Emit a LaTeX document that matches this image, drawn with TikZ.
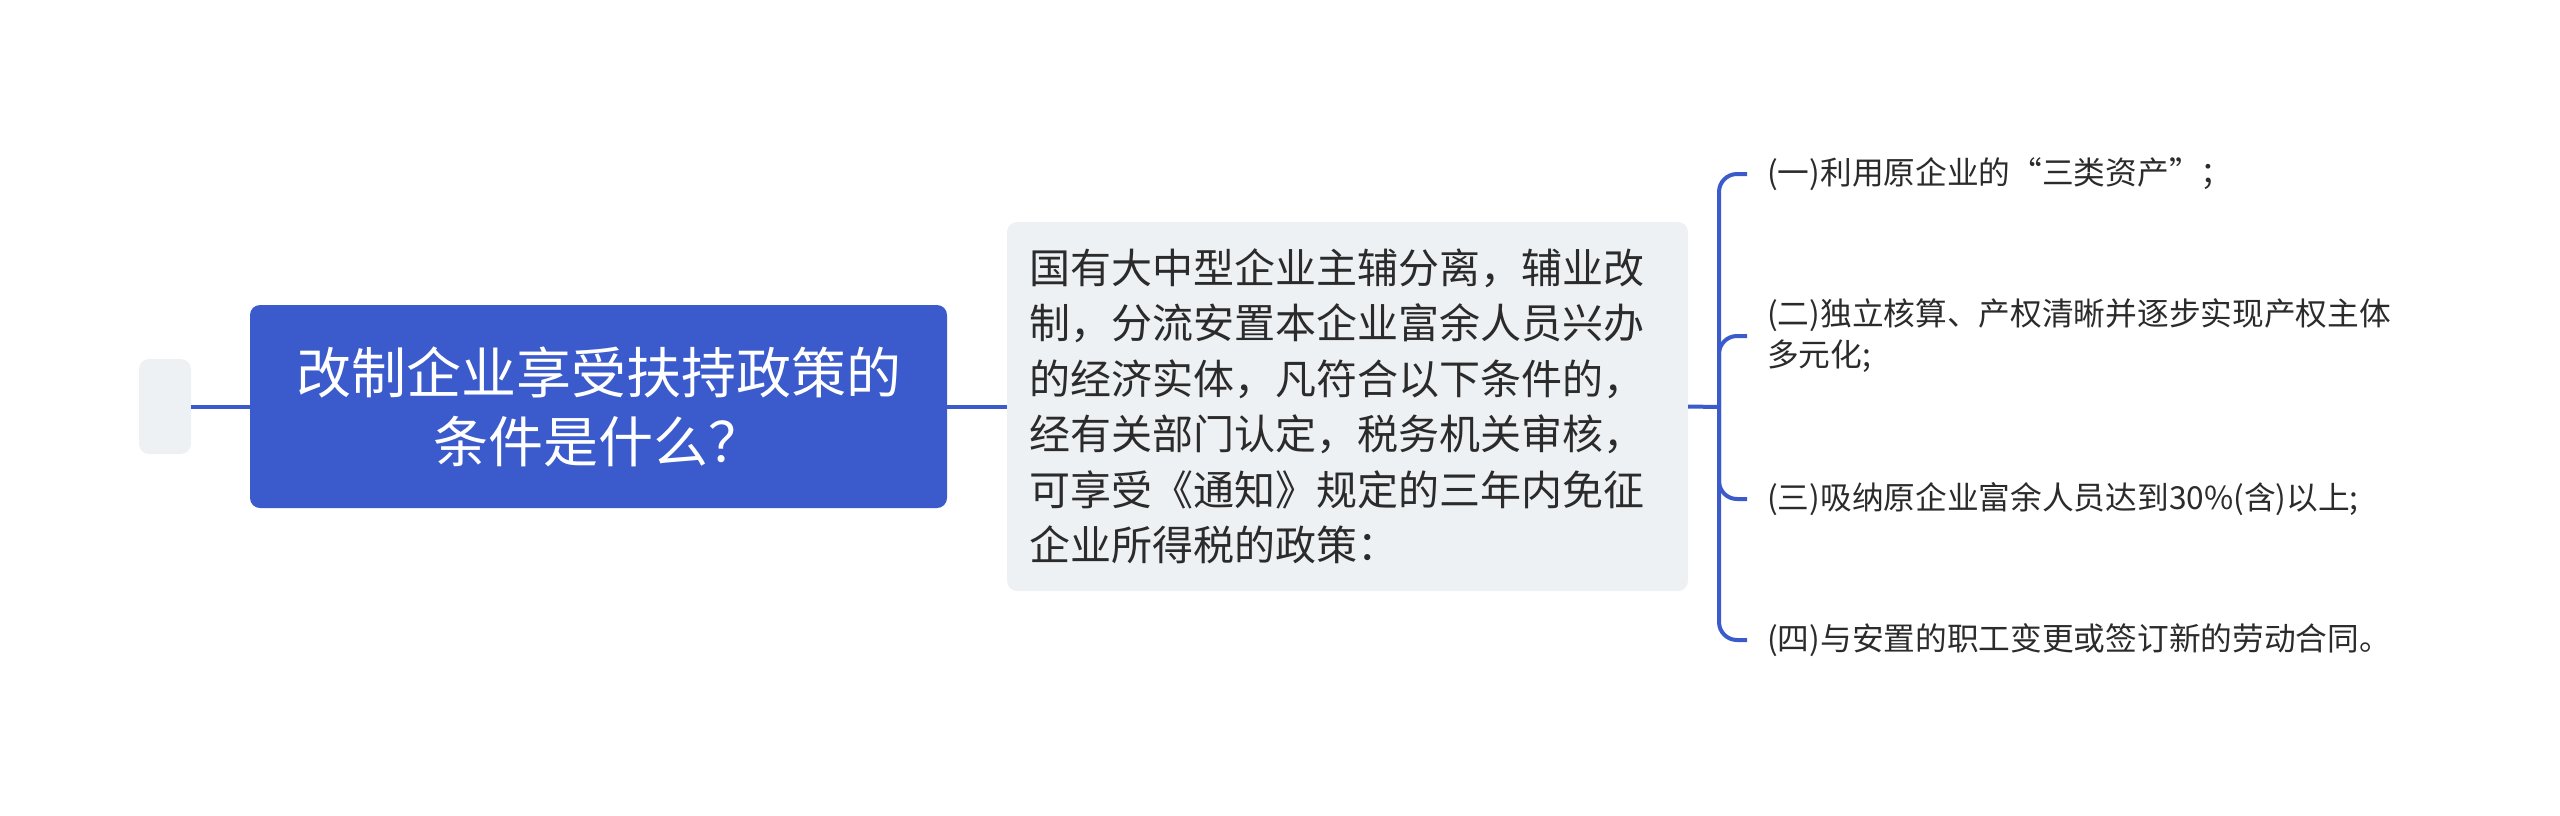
\documentclass[tikz,border=0pt]{standalone}
\usepackage{fontspec}
\newfontfamily\cjk{Noto Sans CJK SC}
\definecolor{mainblue}{HTML}{3B5BCD}
\definecolor{boxgray}{HTML}{EEF1F4}
\definecolor{txtcol}{HTML}{2B2B2B}
\begin{document}
\begin{tikzpicture}[x=1pt,y=-1pt,
  conn/.style={draw=mainblue,line width=4pt},
  branch/.style={draw=mainblue,line width=4pt,rounded corners=18pt},
  stub/.style={fill=boxgray,rounded corners=10pt,minimum width=52pt,minimum height=95pt,inner sep=0pt},
  rootbox/.style={fill=mainblue,rounded corners=10pt,minimum width=697pt,minimum height=203pt,inner sep=0pt,
    text=white,align=center,font=\cjk\fontsize{55}{69}\selectfont},
  descbox/.style={fill=boxgray,rounded corners=10pt,minimum height=369pt,inner xsep=22pt,inner ysep=0pt,
    text width=637pt,align=left,text=txtcol,font=\cjk\fontsize{41}{55.5}\selectfont},
  leaf/.style={inner xsep=20pt,inner ysep=0pt,align=left,anchor=west,text=txtcol,
    font=\cjk\fontsize{31.7}{41}\selectfont}
]
\useasboundingbox (0,0) rectangle (2560,815);
\node[stub] (stub) at (165,406.5) {};
\node[rootbox] (root) at (598.5,406.5) {改制企业享受扶持政策的\\条件是什么？};
\node[descbox] (desc) at (1347.5,406.5) {国有大中型企业主辅分离，辅业改\\制，分流安置本企业富余人员兴办\\的经济实体，凡符合以下条件的，\\经有关部门认定，税务机关审核，\\可享受《通知》规定的三年内免征\\企业所得税的政策：};
\coordinate (j) at (1719,407);
\node[leaf] (l1) at (1747,174) {(一)利用原企业的“三类资产”；};
\node[leaf] (l2) at (1747,336) {(二)独立核算、产权清晰并逐步实现产权主体\\多元化;};
\node[leaf] (l3) at (1747,499) {(三)吸纳原企业富余人员达到30\%(含)以上;};
\node[leaf] (l4) at (1747,640) {(四)与安置的职工变更或签订新的劳动合同。};
\draw[conn] (stub.east) -- (root.west);
\draw[conn] (root.east) -- (desc.west);
\draw[conn] (desc.east) -- (j);
\draw[branch] (j) |- (l1.west);
\draw[branch] (j) |- (l2.west);
\draw[branch] (j) |- (l3.west);
\draw[branch] (j) |- (l4.west);
\end{tikzpicture}
\end{document}
